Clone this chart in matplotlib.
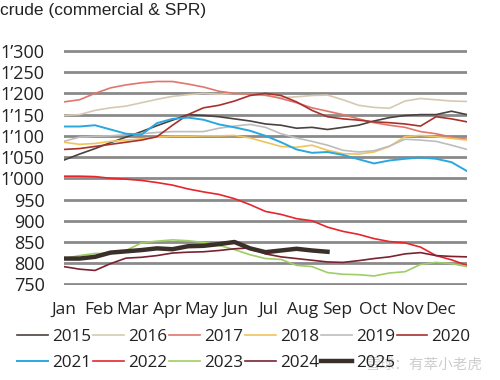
import numpy as np
import matplotlib
matplotlib.use('Agg')
import matplotlib.pyplot as plt

# weekly index (every 2 weeks), 0 = start of Jan, 52 = end of Dec
weeks = list(range(0, 53, 2))
months = ['Jan', 'Feb', 'Mar', 'Apr', 'May', 'Jun', 'Jul', 'Aug', 'Sep', 'Oct', 'Nov', 'Dec']
month_pos = [0, 4.5, 8.8, 13.4, 17.7, 22.1, 26.3, 30.8, 35.2, 39.9, 44.3, 48.6]

y2015 = [1043, 1057, 1070, 1084, 1097, 1110, 1124, 1137, 1150, 1148, 1145, 1140, 1135, 1128,
         1125, 1118, 1120, 1115, 1120, 1125, 1135, 1143, 1148, 1150, 1150, 1158, 1150]
y2016 = [1148, 1150, 1160, 1166, 1170, 1178, 1186, 1193, 1197, 1200, 1198, 1200, 1198, 1195,
         1190, 1192, 1195, 1196, 1185, 1172, 1167, 1165, 1182, 1188, 1185, 1182, 1181]
y2017 = [1180, 1185, 1200, 1213, 1220, 1225, 1228, 1228, 1222, 1215, 1205, 1200, 1198, 1196,
         1188, 1178, 1166, 1158, 1150, 1140, 1131, 1125, 1120, 1110, 1105, 1097, 1092]
y2018 = [1085, 1080, 1082, 1087, 1090, 1093, 1097, 1099, 1099, 1100, 1100, 1101, 1095, 1085,
         1075, 1073, 1078, 1066, 1058, 1057, 1062, 1075, 1098, 1101, 1098, 1094, 1090]
y2019 = [1087, 1097, 1099, 1100, 1103, 1105, 1108, 1110, 1110, 1110, 1118, 1123, 1127, 1120,
         1105, 1095, 1087, 1078, 1066, 1062, 1065, 1076, 1092, 1090, 1087, 1078, 1068]
y2020 = [1068, 1070, 1075, 1080, 1085, 1090, 1098, 1125, 1150, 1166, 1172, 1182, 1195, 1200,
         1195, 1180, 1160, 1145, 1140, 1137, 1133, 1131, 1128, 1123, 1145, 1140, 1133]
y2021 = [1122, 1122, 1125, 1115, 1105, 1103, 1130, 1140, 1143, 1138, 1127, 1120, 1112, 1100,
         1085, 1068, 1060, 1062, 1055, 1045, 1035, 1042, 1046, 1049, 1046, 1038, 1017]
y2022 = [1005, 1005, 1004, 1000, 998, 995, 990, 984, 975, 968, 962, 952, 938, 922,
         915, 905, 900, 885, 875, 868, 858, 851, 848, 838, 818, 808, 795]
y2023 = [811, 818, 823, 823, 830, 848, 852, 855, 853, 849, 842, 832, 820, 811,
         809, 795, 792, 778, 774, 773, 770, 777, 780, 797, 802, 799, 792]
y2024 = [792, 786, 783, 799, 812, 814, 818, 824, 826, 827, 830, 834, 836, 822,
         815, 811, 807, 803, 802, 806, 811, 815, 822, 825, 818, 816, 815]
weeks_2025 = list(range(0, 35, 2))
y2025 = [811, 811, 815, 825, 828, 831, 835, 833, 840, 841, 845, 850, 835, 826,
         830, 834, 830, 827]

series = [
    ('2015', weeks, y2015, '#4a423e', 1.2),
    ('2016', weeks, y2016, '#d6c9b4', 1.2),
    ('2017', weeks, y2017, '#e0766c', 1.2),
    ('2018', weeks, y2018, '#f0c45a', 1.2),
    ('2019', weeks, y2019, '#bdbdbd', 1.2),
    ('2020', weeks, y2020, '#a8312c', 1.2),
    ('2021', weeks, y2021, '#2aa7df', 1.4),
    ('2022', weeks, y2022, '#e6262d', 1.2),
    ('2023', weeks, y2023, '#9fcd66', 1.2),
    ('2024', weeks, y2024, '#7a2230', 1.2),
    ('2025', weeks_2025, y2025, '#3b2f29', 3.2),
]

fig = plt.figure(figsize=(5.0, 3.8), dpi=100)
ax = fig.add_axes([0.128, 0.2492, 0.806, 0.619])

handles = []
for name, xs, ys, c, lw in series:
    h, = ax.plot(xs, ys, color=c, lw=lw, label=name, zorder=3)
    handles.append(h)

ax.set_xlim(0, 52)
ax.set_ylim(748, 1302)
yt = list(range(750, 1301, 50))
ax.set_yticks(yt)
ax.set_yticklabels([f"{v:,}".replace(',', '\u2019') for v in yt],
                   fontsize=13, family='Open Sans', color='#222222')
ax.set_xticks(month_pos)
ax.set_xticklabels(months, fontsize=12.5, family='Open Sans', color='#222222')
ax.tick_params(axis='both', length=0)
ax.tick_params(axis='x', pad=12)
ax.tick_params(axis='y', pad=14)
ax.yaxis.grid(True, color='#8a8a8a', lw=2.0, zorder=1)
ax.set_axisbelow(True)
for s in ax.spines.values():
    s.set_visible(False)

fig.text(0.0, 0.972, 'crude (commercial & SPR)', fontsize=12.5,
         family='Liberation Sans', color='#222222', va='center', ha='left')

# row-wise legend order: 2015..2020 on top, 2021..2025 below
order = [0, 6, 1, 7, 2, 8, 3, 9, 4, 10, 5]
leg = fig.legend([handles[i] for i in order], [series[i][0] for i in order],
                 loc='lower center', bbox_to_anchor=(0.488, -0.018), ncol=6,
                 frameon=False, prop={'family': 'Open Sans', 'size': 12.3},
                 handlelength=1.8, handletextpad=0.25, columnspacing=0.1,
                 labelspacing=0.6, labelcolor='#222222')

fig.text(0.966, 0.04, '雪球：有萃小老虎', fontsize=10.5, color='#c8c8c8',
         family=['Noto Sans CJK SC', 'DejaVu Sans'], ha='right', va='center', alpha=0.9)

fig.savefig('out.png', dpi=100)
